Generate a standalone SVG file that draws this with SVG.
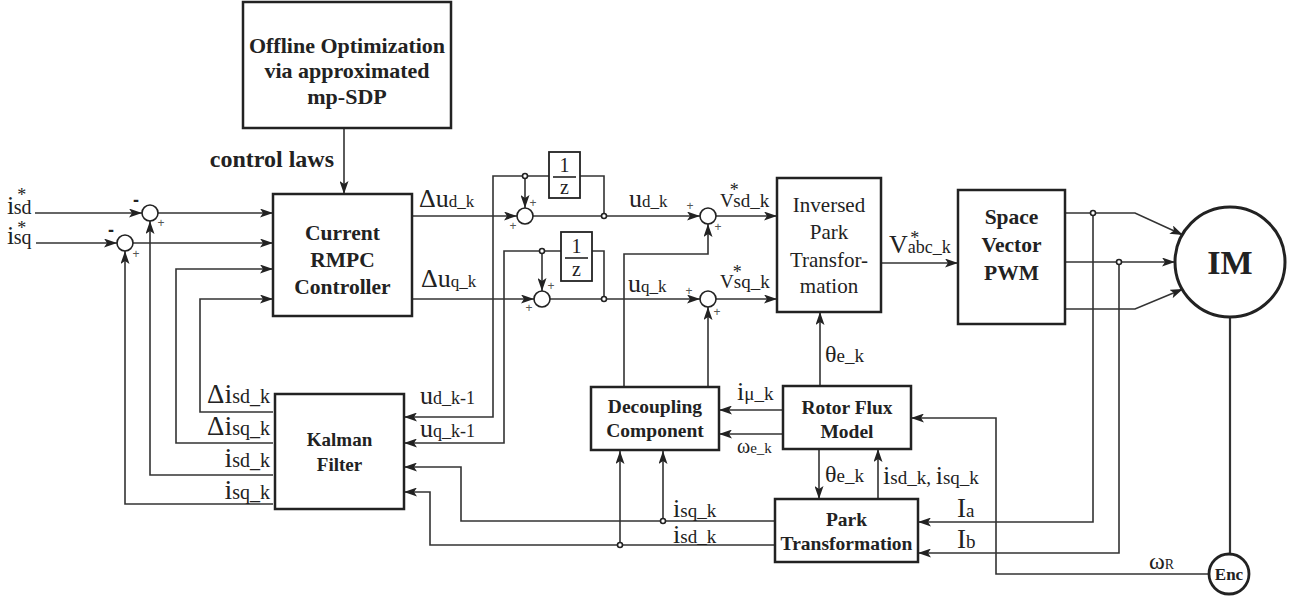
<svg xmlns="http://www.w3.org/2000/svg" width="1301" height="601" viewBox="0 0 1301 601">
<style>
.box{fill:#fff;stroke:#222;stroke-width:2.5}
.ln{fill:none;stroke:#333;stroke-width:1.6}
.ar{fill:none;stroke:#333;stroke-width:1.6;marker-end:url(#ah)}
.dot{fill:#fff;stroke:#222;stroke-width:1.6}
.sum{fill:#fff;stroke:#222;stroke-width:1.6}
.b{font-family:"Liberation Serif","Times New Roman",serif;font-weight:bold;fill:#222;text-anchor:middle}
.r{font-family:"Liberation Serif","Times New Roman",serif;fill:#222}
.rc{font-family:"Liberation Serif","Times New Roman",serif;fill:#222;text-anchor:middle}
.pl{font-family:"Liberation Sans",Arial,sans-serif;fill:#555;font-size:12px;text-anchor:middle}
.mi{font-family:"Liberation Sans",Arial,sans-serif;fill:#222;font-size:18px;font-weight:bold;text-anchor:middle}
</style>
<defs>
<marker id="ah" markerUnits="userSpaceOnUse" markerWidth="13" markerHeight="9" refX="13" refY="4.5" orient="auto">
<path d="M0,0 L13,4.5 L0,9 L3,4.5 z" fill="#222"/>
</marker>
</defs>
<rect width="1301" height="601" fill="#fff"/>

<g id="connectors">
<path class="ar" d="M344,128 V194"/>
<path class="ar" d="M35,213 H142"/>
<path class="ar" d="M36,243 H117"/>
<path class="ar" d="M158,213 H273"/>
<path class="ar" d="M133,243 H273"/>
<path class="ar" d="M273,412 H200 V299 H273"/>
<path class="ar" d="M273,443 H176 V269 H273"/>
<path class="ar" d="M273,475 H150 V221"/>
<path class="ar" d="M273,504 H125 V251"/>
<path class="ar" d="M412,216 H517"/>
<path class="ar" d="M412,299 H534"/>
<path class="ar" d="M533,216 H700"/>
<path class="ar" d="M550,299 H700"/>
<path class="ln" d="M604,216 V176 H580"/>
<path class="ar" d="M549,176 H493 V417 H404"/>
<path class="ar" d="M525,176 V208"/>
<path class="ln" d="M604,299 V251 H592"/>
<path class="ar" d="M561,251 H504 V443 H404"/>
<path class="ar" d="M542,251 V291"/>
<path class="ar" d="M716,216 H777"/>
<path class="ar" d="M716,299 H777"/>
<path class="ar" d="M624,387 V254 H708 V224"/>
<path class="ar" d="M708,387 V307"/>
<path class="ar" d="M820,386 V312"/>
<path class="ar" d="M881,263 H958"/>
<path class="ar" d="M1065,213 H1135 L1183,235"/>
<path class="ar" d="M1065,262 H1175"/>
<path class="ar" d="M1065,309 H1135 L1183,289"/>
<path class="ar" d="M1093,213 V522 H918"/>
<path class="ar" d="M1119,262 V553 H918"/>
<path class="ln" d="M1230,317 V554" style="stroke-width:2.2"/>
<path class="ar" d="M1209,574 H996 V418 H911"/>
<path class="ar" d="M819,449 V499"/>
<path class="ar" d="M878,499 V449"/>
<path class="ar" d="M783,410 H719"/>
<path class="ar" d="M783,434 H719"/>
<path class="ar" d="M775,521 H461 V467 H404"/>
<path class="ar" d="M663,521 V451"/>
<path class="ar" d="M775,545 H430 V492 H404"/>
<path class="ar" d="M620,545 V451"/>
<circle class="dot" cx="604" cy="216" r="2.5"/>
<circle class="dot" cx="525" cy="176" r="2.5"/>
<circle class="dot" cx="604" cy="299" r="2.5"/>
<circle class="dot" cx="542" cy="251" r="2.5"/>
<circle class="dot" cx="1093" cy="213" r="2.5"/>
<circle class="dot" cx="1119" cy="262" r="2.5"/>
<circle class="dot" cx="663" cy="521" r="2.5"/>
<circle class="dot" cx="620" cy="545" r="2.5"/>
</g>

<g id="offline">
<rect class="box" x="243" y="2" width="208" height="126"/>
<text class="b" x="347" y="53" font-size="22">Offline Optimization</text>
<text class="b" x="347" y="78" font-size="22">via approximated</text>
<text class="b" x="347" y="104" font-size="22">mp-SDP</text>
</g>
<text class="b" x="334" y="167" font-size="24" style="text-anchor:end">control laws</text>

<g id="controller">
<rect class="box" x="273" y="194" width="139" height="122"/>
<text class="b" x="342.5" y="240" font-size="21.5">Current</text>
<text class="b" x="342.5" y="267" font-size="21.5">RMPC</text>
<text class="b" x="342.5" y="294" font-size="21.5">Controller</text>
</g>

<g id="kalman">
<rect class="box" x="275" y="394" width="129" height="115"/>
<text class="b" x="339.5" y="446" font-size="19">Kalman</text>
<text class="b" x="339.5" y="471" font-size="19">Filter</text>
</g>

<g id="decoupling">
<rect class="box" x="591" y="387" width="128" height="63"/>
<text class="b" x="655" y="413" font-size="19.5">Decoupling</text>
<text class="b" x="655" y="437" font-size="19.5">Component</text>
</g>

<g id="rotorflux">
<rect class="box" x="783" y="386" width="128" height="63"/>
<text class="b" x="847" y="414" font-size="19.5">Rotor Flux</text>
<text class="b" x="847" y="438" font-size="19.5">Model</text>
</g>

<g id="park">
<rect class="box" x="775" y="499" width="143" height="63"/>
<text class="b" x="846.5" y="526" font-size="19.5">Park</text>
<text class="b" x="846.5" y="550" font-size="19.5">Transformation</text>
</g>

<g id="invpark">
<rect class="box" x="777" y="178" width="104" height="134"/>
<text class="rc" x="829" y="212" font-size="21">Inversed</text>
<text class="rc" x="829" y="239" font-size="21">Park</text>
<text class="rc" x="829" y="267" font-size="21">Transfor-</text>
<text class="rc" x="829" y="293" font-size="21">mation</text>
</g>

<g id="svpwm">
<rect class="box" x="958" y="190" width="107" height="134"/>
<text class="b" x="1011.5" y="224" font-size="21.5">Space</text>
<text class="b" x="1011.5" y="252" font-size="21.5">Vector</text>
<text class="b" x="1011.5" y="280" font-size="21.5">PWM</text>
</g>

<g id="im">
<circle cx="1230" cy="262" r="55" fill="#fff" stroke="#222" stroke-width="3"/>
<text class="b" x="1230" y="274" font-size="34">IM</text>
</g>

<g id="enc">
<circle cx="1229" cy="574" r="20" fill="#fff" stroke="#222" stroke-width="2.8"/>
<text class="b" x="1229" y="580" font-size="17">Enc</text>
</g>

<g id="delay-d">
<rect x="549" y="152" width="31" height="46" fill="#fff" stroke="#222" stroke-width="1.8"/>
<text class="rc" x="564.5" y="172" font-size="20">1</text>
<line x1="553" y1="177" x2="576" y2="177" stroke="#222" stroke-width="1.6"/>
<text class="rc" x="564.5" y="194" font-size="20">z</text>
</g>
<g id="delay-q">
<rect x="561" y="232" width="31" height="49" fill="#fff" stroke="#222" stroke-width="1.8"/>
<text class="rc" x="576.5" y="253" font-size="20">1</text>
<line x1="565" y1="258" x2="588" y2="258" stroke="#222" stroke-width="1.6"/>
<text class="rc" x="576.5" y="276" font-size="20">z</text>
</g>

<g id="sums">
<circle class="sum" cx="150" cy="213" r="8"/>
<circle class="sum" cx="125" cy="243" r="8"/>
<circle class="sum" cx="525" cy="216" r="8"/>
<circle class="sum" cx="542" cy="299" r="8"/>
<circle class="sum" cx="708" cy="216" r="8"/>
<circle class="sum" cx="708" cy="299" r="8"/>
<text class="mi" x="136" y="206">-</text>
<text class="mi" x="111" y="236">-</text>
<text class="pl" x="161" y="227">+</text>
<text class="pl" x="136" y="258">+</text>
<text class="pl" x="533" y="207">+</text>
<text class="pl" x="513" y="230">+</text>
<text class="pl" x="551" y="290">+</text>
<text class="pl" x="529" y="312">+</text>
<text class="pl" x="690" y="210">+</text>
<text class="pl" x="718" y="231">+</text>
<text class="pl" x="689" y="295">+</text>
<text class="pl" x="717" y="316">+</text>
</g>

<g id="labels">
<text class="r" x="7" y="214"><tspan font-size="26">i</tspan><tspan font-size="18" dx="3" dy="-13">*</tspan><tspan font-size="20" dx="-12.5" dy="13">sd</tspan></text>
<text class="r" x="7" y="244"><tspan font-size="26">i</tspan><tspan font-size="18" dx="3" dy="-10">*</tspan><tspan font-size="20" dx="-12.5" dy="10">sq</tspan></text>

<text class="r" x="419" y="207"><tspan font-size="26">Δ</tspan><tspan font-size="26">u</tspan><tspan font-size="17">d_k</tspan></text>
<text class="r" x="421" y="287"><tspan font-size="26">Δ</tspan><tspan font-size="26">u</tspan><tspan font-size="17">q_k</tspan></text>
<text class="r" x="629" y="207"><tspan font-size="26">u</tspan><tspan font-size="17">d_k</tspan></text>
<text class="r" x="628" y="292"><tspan font-size="26">u</tspan><tspan font-size="17">q_k</tspan></text>
<text class="r" x="720" y="207" font-size="19">V<tspan font-size="18" dx="-4" dy="-11">*</tspan><tspan dx="-5.5" dy="11">sd_k</tspan></text>
<text class="r" x="720" y="288" font-size="19">V<tspan font-size="18" dx="-1" dy="-10">*</tspan><tspan dx="-8" dy="10">sq_k</tspan></text>
<text class="r" x="889" y="253"><tspan font-size="26">V</tspan><tspan font-size="18" dx="2.5" dy="-9">*</tspan><tspan font-size="18" dx="-11.5" dy="9">abc_k</tspan></text>

<text class="r" x="825" y="362"><tspan font-size="24">θ</tspan><tspan font-size="19">e_k</tspan></text>
<text class="r" x="825" y="482"><tspan font-size="24">θ</tspan><tspan font-size="19">e_k</tspan></text>
<text class="r" x="737" y="400"><tspan font-size="26">i</tspan><tspan font-size="19">μ_k</tspan></text>
<text class="r" x="737" y="453"><tspan font-size="20">ω</tspan><tspan font-size="15">e_k</tspan></text>
<text class="r" x="883" y="484"><tspan font-size="26">i</tspan><tspan font-size="19">sd_k, </tspan><tspan font-size="26">i</tspan><tspan font-size="19">sq_k</tspan></text>
<text class="r" x="673" y="517"><tspan font-size="26">i</tspan><tspan font-size="19">sq_k</tspan></text>
<text class="r" x="673" y="543"><tspan font-size="26">i</tspan><tspan font-size="19">sd_k</tspan></text>
<text class="r" x="957" y="517"><tspan font-size="27">I</tspan><tspan font-size="19">a</tspan></text>
<text class="r" x="957" y="548"><tspan font-size="27">I</tspan><tspan font-size="19">b</tspan></text>
<text class="r" x="1149" y="569"><tspan font-size="24">ω</tspan><tspan font-size="14">R</tspan></text>

<text class="r" x="420" y="404"><tspan font-size="26">u</tspan><tspan font-size="18">d_k-1</tspan></text>
<text class="r" x="420" y="437"><tspan font-size="26">u</tspan><tspan font-size="18">q_k-1</tspan></text>
<text class="r" x="270" y="403" style="text-anchor:end"><tspan font-size="27">Δ</tspan><tspan font-size="28">i</tspan><tspan font-size="20">sd_k</tspan></text>
<text class="r" x="270" y="435" style="text-anchor:end"><tspan font-size="27">Δ</tspan><tspan font-size="28">i</tspan><tspan font-size="20">sq_k</tspan></text>
<text class="r" x="270" y="467" style="text-anchor:end"><tspan font-size="28">i</tspan><tspan font-size="20">sd_k</tspan></text>
<text class="r" x="270" y="499" style="text-anchor:end"><tspan font-size="28">i</tspan><tspan font-size="20">sq_k</tspan></text>
</g>
</svg>
